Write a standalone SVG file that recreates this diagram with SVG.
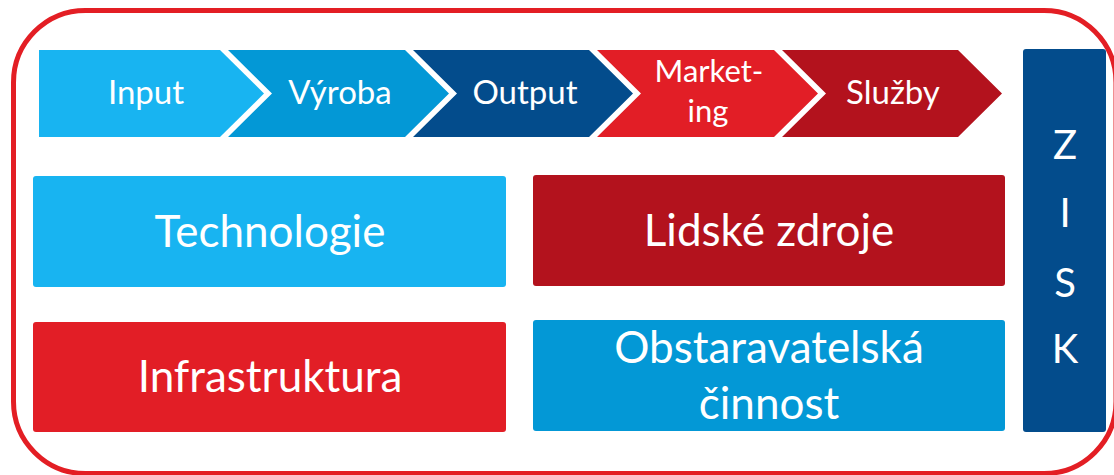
<svg xmlns="http://www.w3.org/2000/svg" width="1114" height="475" viewBox="0 0 1114 475">
<style>
text{font-family:Lato,"Noto Sans","Liberation Sans",sans-serif;fill:#fff;text-anchor:middle}
.s{font-size:33px}
.m{font-size:31px}
.b{font-size:44px}
.z{font-size:40px}
.c1{fill:#18B4F1}
.c2{fill:#0398D6}
.c3{fill:#034C8C}
.c4{fill:#E21E26}
.c5{fill:#B3121D}
</style>
<rect x="0" y="0" width="1114" height="475" fill="#fff"/>
<g id="frame">
<rect x="13.5" y="10.5" width="1102.5" height="463" rx="72" ry="72" fill="none" stroke="#E31E24" stroke-width="5"/>
</g>
<g id="input">
<polygon class="c1" points="39,50 220,50 264,93.5 220,137 39,137"/>
<text class="s" x="146" y="104">Input</text>
</g>
<g id="vyroba">
<polygon class="c2" points="228,50 405,50 449,93.5 405,137 228,137 272,93.5"/>
<text class="s" x="340" y="104">Výroba</text>
</g>
<g id="output">
<polygon class="c3" points="413,50 589,50 633,93.5 589,137 413,137 457,93.5"/>
<text class="s" x="525" y="104">Output</text>
</g>
<g id="marketing">
<polygon class="c4" points="597,50 774,50 818,93.5 774,137 597,137 641,93.5"/>
<text class="m" x="709" y="82">Market-</text>
<text class="m" x="708" y="122">ing</text>
</g>
<g id="sluzby">
<polygon class="c5" points="782,50 958,50 1002,93.5 958,137 782,137 826,93.5"/>
<text class="s" x="893" y="104">Služby</text>
</g>
<g id="technologie">
<rect class="c1" x="33" y="176" width="473" height="111" rx="3"/>
<text class="b" x="270" y="247">Technologie</text>
</g>
<g id="lidske-zdroje">
<rect class="c5" x="533" y="175" width="472" height="111" rx="3"/>
<text class="b" x="769" y="246">Lidské zdroje</text>
</g>
<g id="infrastruktura">
<rect class="c4" x="33" y="322" width="473" height="110" rx="3"/>
<text class="b" x="270" y="392">Infrastruktura</text>
</g>
<g id="obstaravatelska">
<rect class="c2" x="533" y="320" width="472" height="111" rx="3"/>
<text class="b" x="769" y="363">Obstaravatelská</text>
<text class="b" x="769" y="419">činnost</text>
</g>
<g id="zisk">
<rect class="c3" x="1023" y="49" width="83" height="383" rx="3"/>
<text class="z" x="1065" y="159">Z</text>
<text class="z" x="1065" y="227">I</text>
<text class="z" x="1065" y="297">S</text>
<text class="z" x="1065" y="363">K</text>
</g>
<g id="connectors"></g>
</svg>
